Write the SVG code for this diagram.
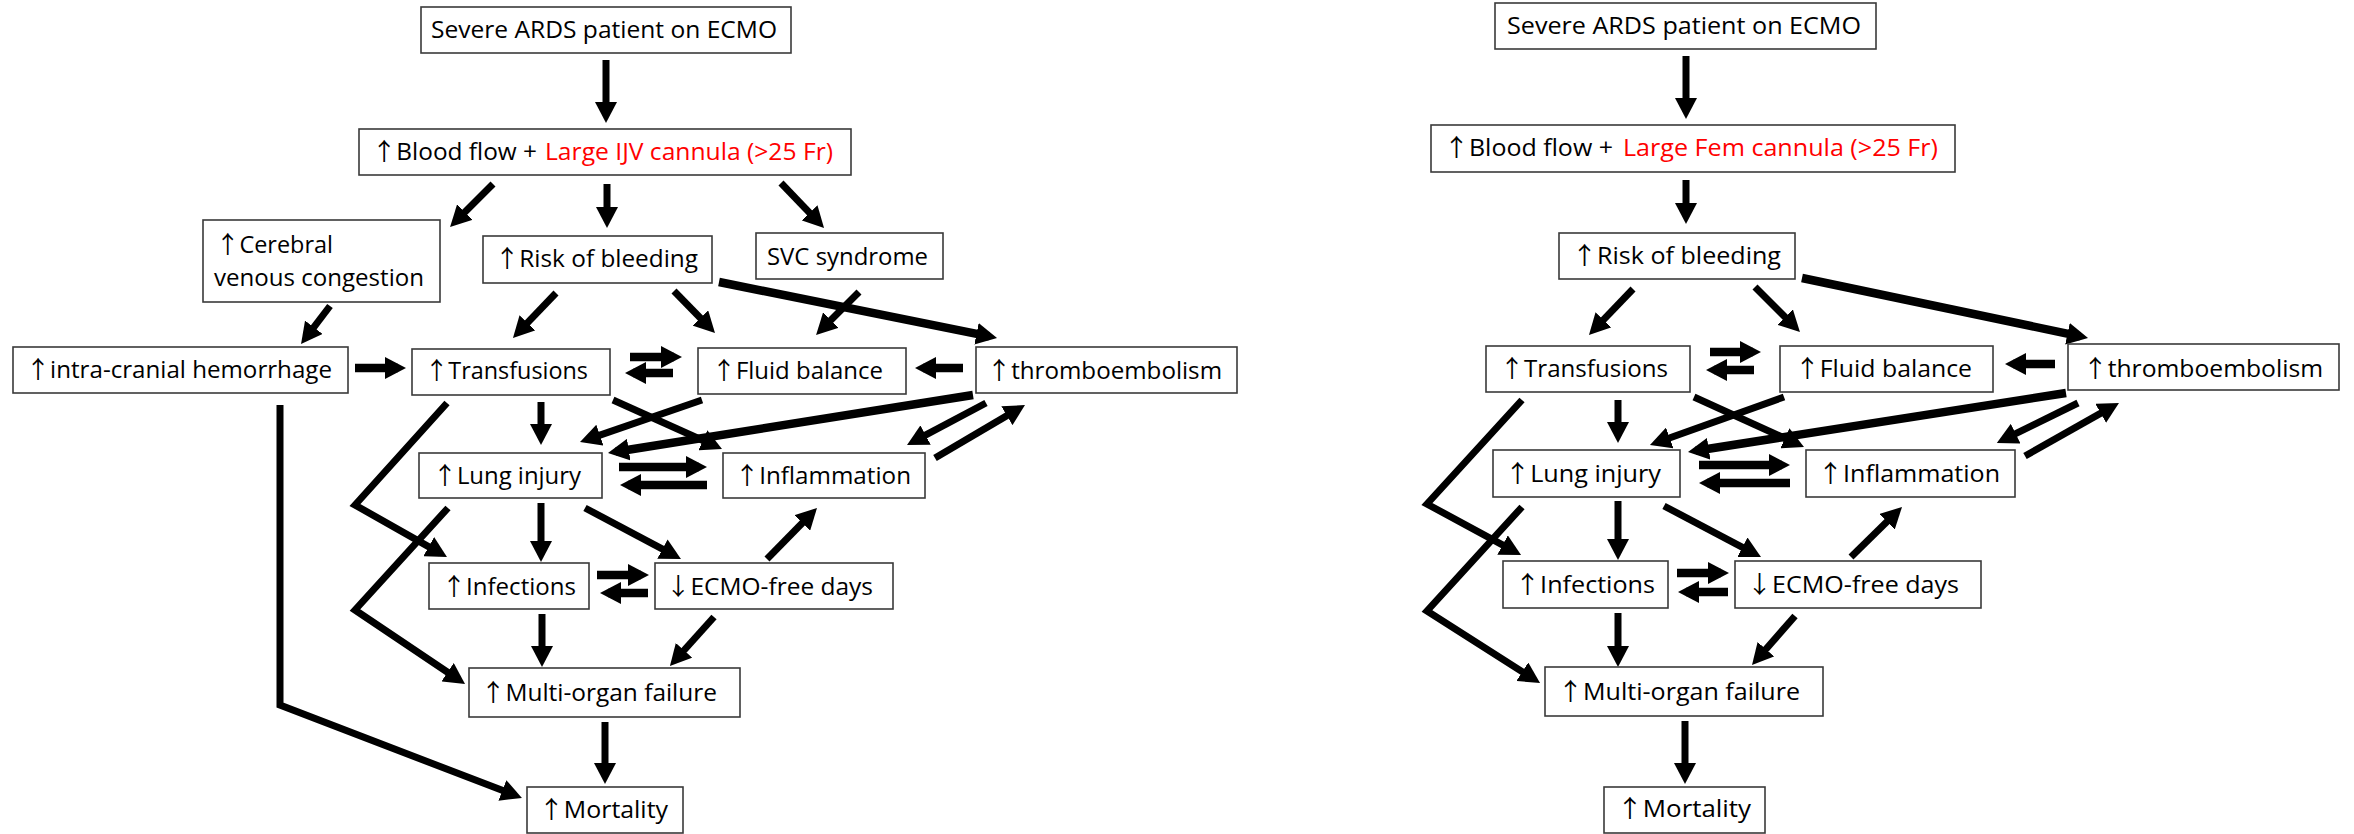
<svg xmlns="http://www.w3.org/2000/svg" width="2354" height="834" viewBox="0 0 2354 834">
<style>
.box{fill:#fff;stroke:#3a3a3a;stroke-width:1.6}
.t{font-family:"Open Sans","Noto Sans","DejaVu Sans",sans-serif;font-size:24px;fill:#000}
.ar{font-family:"Noto Sans CJK SC","Noto Sans CJK JP","DejaVu Sans",sans-serif;font-size:24px}
.red{fill:#ff0000}
.c{stroke:#000;stroke-width:7;fill:none;marker-end:url(#ah)}
.k{stroke-width:8.5}
</style>
<defs>
<marker id="ah" markerUnits="userSpaceOnUse" markerWidth="22" markerHeight="22" viewBox="0 0 22 22" refX="13" refY="11" orient="auto">
<path d="M0,0 L21,11 L0,22 z" fill="#000"/>
</marker>
</defs>
<rect width="2354" height="834" fill="#fff"/>

<g id="connectors">
<!-- left panel -->
<line class="c" x1="606" y1="60" x2="606" y2="115"/>
<line class="c" x1="493" y1="184" x2="455.7" y2="221.3"/>
<line class="c" x1="607" y1="184" x2="607" y2="220"/>
<line class="c" x1="781" y1="183" x2="818.5" y2="222.2"/>
<line class="c" x1="330" y1="306" x2="305.9" y2="337.6"/>
<line class="c" x1="556" y1="293" x2="518.5" y2="332.2"/>
<line class="c" x1="674" y1="291" x2="709.4" y2="327.3"/>
<line class="c" x1="859" y1="292" x2="821.7" y2="329.3"/>
<line class="c k" x1="719" y1="282" x2="989.2" y2="336.4"/>
<line class="c k" x1="355" y1="368" x2="398" y2="368"/>
<line class="c k" x1="630" y1="357" x2="674" y2="357"/>
<line class="c k" x1="673" y1="373" x2="633" y2="373"/>
<line class="c k" x1="963" y1="368" x2="923" y2="368"/>
<line class="c" x1="541" y1="402" x2="541" y2="437"/>
<polyline class="c" points="447,403 355,505 440,553.1"/>
<line class="c" x1="613" y1="400" x2="714.7" y2="445.7"/>
<line class="c" x1="702" y1="400" x2="587.6" y2="439.4"/>
<line class="c k" x1="973" y1="395" x2="615.9" y2="451.7"/>
<line class="c" x1="986" y1="403" x2="914.1" y2="441.2"/>
<line class="c" x1="935" y1="458" x2="1018.1" y2="409.1"/>
<line class="c k" x1="619" y1="467" x2="699" y2="467"/>
<line class="c k" x1="707" y1="485" x2="628" y2="485"/>
<line class="c" x1="541" y1="503" x2="541" y2="554"/>
<line class="c" x1="585" y1="508" x2="673.9" y2="555.2"/>
<line class="c" x1="767" y1="559" x2="811.4" y2="513.7"/>
<line class="c k" x1="597" y1="575" x2="641" y2="575"/>
<line class="c k" x1="648" y1="593" x2="608" y2="593"/>
<polyline class="c" points="448,508 355,610 458.4,679.5"/>
<line class="c" x1="542" y1="614" x2="542" y2="659"/>
<line class="c" x1="714" y1="617" x2="675.3" y2="660"/>
<line class="c" x1="605" y1="722" x2="605" y2="776"/>
<polyline class="c" points="280,405 280,705 514.5,795.1"/>
<!-- right panel -->
<line class="c" x1="1686" y1="56" x2="1686" y2="111"/>
<line class="c" x1="1686" y1="180" x2="1686" y2="216"/>
<line class="c" x1="1633" y1="289" x2="1594.5" y2="329.2"/>
<line class="c" x1="1755" y1="287" x2="1794.3" y2="326.3"/>
<line class="c k" x1="1802" y1="278" x2="2080.2" y2="336.4"/>
<line class="c k" x1="1710" y1="352" x2="1753" y2="352"/>
<line class="c k" x1="1754" y1="370" x2="1714" y2="370"/>
<line class="c k" x1="2055" y1="364" x2="2013" y2="364"/>
<line class="c" x1="1618" y1="400" x2="1618" y2="435"/>
<polyline class="c" points="1522,400 1427,504 1514,551.2"/>
<line class="c" x1="1694" y1="397" x2="1796.7" y2="443.7"/>
<line class="c" x1="1784" y1="397" x2="1657.5" y2="442.3"/>
<line class="c k" x1="2066" y1="393" x2="1695.9" y2="450.8"/>
<line class="c" x1="2078" y1="403" x2="2004" y2="439.4"/>
<line class="c" x1="2025" y1="456" x2="2112" y2="406.9"/>
<line class="c k" x1="1699" y1="465" x2="1782" y2="465"/>
<line class="c k" x1="1790" y1="483" x2="1707" y2="483"/>
<line class="c" x1="1618" y1="501" x2="1618" y2="552"/>
<line class="c" x1="1664" y1="506" x2="1753.9" y2="553.3"/>
<line class="c" x1="1851" y1="557" x2="1896.3" y2="512.6"/>
<line class="c k" x1="1677" y1="573" x2="1721" y2="573"/>
<line class="c k" x1="1728" y1="592" x2="1686" y2="592"/>
<polyline class="c" points="1522,507 1427,611 1533.3,678.7"/>
<line class="c" x1="1618" y1="613" x2="1618" y2="659"/>
<line class="c" x1="1795" y1="616" x2="1757.3" y2="659"/>
<line class="c" x1="1685" y1="721" x2="1685" y2="776"/>
</g>

<!-- left panel nodes -->
<g id="L-ards"><rect class="box" x="421" y="7" width="370" height="46"/><text class="t" x="431" y="38" textLength="346" lengthAdjust="spacingAndGlyphs">Severe ARDS patient on ECMO</text></g>
<g id="L-blood"><rect class="box" x="359" y="129" width="492" height="46"/><text class="t" x="372" y="160" textLength="165" lengthAdjust="spacingAndGlyphs"><tspan class="ar">↑</tspan>Blood flow +</text><text class="t red" x="545" y="160" textLength="288" lengthAdjust="spacingAndGlyphs">Large IJV cannula (&gt;25 Fr)</text></g>
<g id="L-cerebral"><rect class="box" x="203" y="220" width="237" height="82"/><text class="t" x="216" y="253" textLength="117" lengthAdjust="spacingAndGlyphs"><tspan class="ar">↑</tspan>Cerebral</text><text class="t" x="214" y="286" textLength="210" lengthAdjust="spacingAndGlyphs">venous congestion</text></g>
<g id="L-risk"><rect class="box" x="483" y="236" width="229" height="47"/><text class="t" x="495" y="267" textLength="203" lengthAdjust="spacingAndGlyphs"><tspan class="ar">↑</tspan>Risk of bleeding</text></g>
<g id="L-svc"><rect class="box" x="756" y="233" width="187" height="46"/><text class="t" x="767" y="265" textLength="161" lengthAdjust="spacingAndGlyphs">SVC syndrome</text></g>
<g id="L-ich"><rect class="box" x="13" y="347" width="335" height="46"/><text class="t" x="26" y="378" textLength="306" lengthAdjust="spacingAndGlyphs"><tspan class="ar">↑</tspan>intra-cranial hemorrhage</text></g>
<g id="L-transf"><rect class="box" x="412" y="349" width="198" height="46"/><text class="t" x="425" y="379" textLength="163" lengthAdjust="spacingAndGlyphs"><tspan class="ar">↑</tspan>Transfusions</text></g>
<g id="L-fluid"><rect class="box" x="698" y="348" width="208" height="46"/><text class="t" x="712" y="379" textLength="171" lengthAdjust="spacingAndGlyphs"><tspan class="ar">↑</tspan>Fluid balance</text></g>
<g id="L-thrombo"><rect class="box" x="976" y="347" width="261" height="46"/><text class="t" x="987" y="379" textLength="235" lengthAdjust="spacingAndGlyphs"><tspan class="ar">↑</tspan>thromboembolism</text></g>
<g id="L-lung"><rect class="box" x="419" y="453" width="183" height="45"/><text class="t" x="433" y="484" textLength="148" lengthAdjust="spacingAndGlyphs"><tspan class="ar">↑</tspan>Lung injury</text></g>
<g id="L-inflam"><rect class="box" x="723" y="453" width="202" height="45"/><text class="t" x="735" y="484" textLength="176" lengthAdjust="spacingAndGlyphs"><tspan class="ar">↑</tspan>Inflammation</text></g>
<g id="L-infect"><rect class="box" x="429" y="563" width="160" height="46"/><text class="t" x="442" y="595" textLength="134" lengthAdjust="spacingAndGlyphs"><tspan class="ar">↑</tspan>Infections</text></g>
<g id="L-ecmo"><rect class="box" x="655" y="563" width="238" height="46"/><text class="t" x="666" y="595" textLength="207" lengthAdjust="spacingAndGlyphs"><tspan class="ar">↓</tspan>ECMO-free days</text></g>
<g id="L-mof"><rect class="box" x="469" y="668" width="271" height="49"/><text class="t" x="481" y="701" textLength="236" lengthAdjust="spacingAndGlyphs"><tspan class="ar">↑</tspan>Multi-organ failure</text></g>
<g id="L-mort"><rect class="box" x="527" y="787" width="156" height="46"/><text class="t" x="539" y="818" textLength="129" lengthAdjust="spacingAndGlyphs"><tspan class="ar">↑</tspan>Mortality</text></g>

<!-- right panel nodes -->
<g id="R-ards"><rect class="box" x="1495" y="3" width="381" height="46"/><text class="t" x="1507" y="34" textLength="354" lengthAdjust="spacingAndGlyphs">Severe ARDS patient on ECMO</text></g>
<g id="R-blood"><rect class="box" x="1431" y="125" width="524" height="47"/><text class="t" x="1444" y="156" textLength="169" lengthAdjust="spacingAndGlyphs"><tspan class="ar">↑</tspan>Blood flow +</text><text class="t red" x="1623" y="156" textLength="315" lengthAdjust="spacingAndGlyphs">Large Fem cannula (&gt;25 Fr)</text></g>
<g id="R-risk"><rect class="box" x="1559" y="233" width="236" height="46"/><text class="t" x="1572" y="264" textLength="209" lengthAdjust="spacingAndGlyphs"><tspan class="ar">↑</tspan>Risk of bleeding</text></g>
<g id="R-transf"><rect class="box" x="1486" y="346" width="204" height="46"/><text class="t" x="1500" y="377" textLength="168" lengthAdjust="spacingAndGlyphs"><tspan class="ar">↑</tspan>Transfusions</text></g>
<g id="R-fluid"><rect class="box" x="1780" y="346" width="213" height="46"/><text class="t" x="1795" y="377" textLength="177" lengthAdjust="spacingAndGlyphs"><tspan class="ar">↑</tspan>Fluid balance</text></g>
<g id="R-thrombo"><rect class="box" x="2068" y="344" width="271" height="46"/><text class="t" x="2083" y="377" textLength="240" lengthAdjust="spacingAndGlyphs"><tspan class="ar">↑</tspan>thromboembolism</text></g>
<g id="R-lung"><rect class="box" x="1493" y="450" width="187" height="47"/><text class="t" x="1505" y="482" textLength="156" lengthAdjust="spacingAndGlyphs"><tspan class="ar">↑</tspan>Lung injury</text></g>
<g id="R-inflam"><rect class="box" x="1806" y="450" width="209" height="47"/><text class="t" x="1818" y="482" textLength="182" lengthAdjust="spacingAndGlyphs"><tspan class="ar">↑</tspan>Inflammation</text></g>
<g id="R-infect"><rect class="box" x="1503" y="561" width="165" height="47"/><text class="t" x="1515" y="593" textLength="140" lengthAdjust="spacingAndGlyphs"><tspan class="ar">↑</tspan>Infections</text></g>
<g id="R-ecmo"><rect class="box" x="1735" y="561" width="246" height="47"/><text class="t" x="1747" y="593" textLength="212" lengthAdjust="spacingAndGlyphs"><tspan class="ar">↓</tspan>ECMO-free days</text></g>
<g id="R-mof"><rect class="box" x="1545" y="667" width="278" height="49"/><text class="t" x="1558" y="700" textLength="242" lengthAdjust="spacingAndGlyphs"><tspan class="ar">↑</tspan>Multi-organ failure</text></g>
<g id="R-mort"><rect class="box" x="1604" y="787" width="161" height="46"/><text class="t" x="1617" y="817" textLength="134" lengthAdjust="spacingAndGlyphs"><tspan class="ar">↑</tspan>Mortality</text></g>
</svg>
